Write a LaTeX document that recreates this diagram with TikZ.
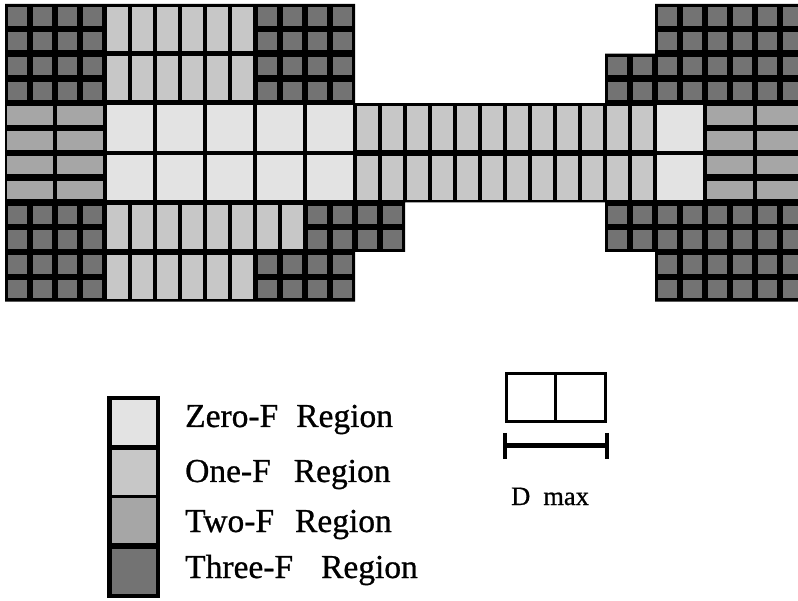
\documentclass[tikz,border=0pt]{standalone}
\usepackage{fontspec}
\setmainfont{Liberation Serif}[FakeBold=0.8]
\usepackage{tikz}

\begin{document}
\begin{tikzpicture}[
  x=1pt, y=-1pt,
  zerof/.style={fill=black!11},
  onef/.style={fill=black!22},
  twof/.style={fill=black!35},
  threef/.style={fill=black!55},
  swatch/.style={minimum width=44pt, minimum height=45pt, inner sep=0pt},
  every node/.style={font=\fontsize{33.5}{40}\selectfont}
]
  \clip (0,0) rectangle (798,601);

  % the map, one unit per cell
  \begin{scope}[shift={(5,4)}, x=50pt, y=-49.6pt]
    \fill[black] (0,0) -- (7,0) -- (7,2) -- (12,2) -- (12,1) -- (13,1)
      -- (13,0) -- (16,0) -- (16,6) -- (13,6) -- (13,5) -- (12,5)
      -- (12,4) -- (8,4) -- (8,5) -- (7,5) -- (7,6) -- (0,6) -- cycle;

    % three-F cells: 2x2 squares
    \foreach \c/\r in {0/0,1/0,5/0,6/0,13/0,14/0,15/0,
                       0/1,1/1,5/1,6/1,12/1,13/1,14/1,15/1,
                       0/4,1/4,6/4,7/4,12/4,13/4,14/4,15/4,
                       0/5,1/5,5/5,6/5,13/5,14/5,15/5}
      \foreach \i in {0,1}
        \foreach \j in {0,1}
          \fill[threef] ({\c+\i/2+0.065},{\r+\j/2+0.065})
            rectangle ({\c+\i/2+0.435},{\r+\j/2+0.435});

    % one-F cells: two upright strips
    \foreach \c/\r in {2/0,3/0,4/0,2/1,3/1,4/1,
                       7/2,8/2,9/2,10/2,11/2,12/2,
                       7/3,8/3,9/3,10/3,11/3,12/3,
                       2/4,3/4,4/4,5/4,2/5,3/5,4/5}
      \foreach \i in {0,1}
        \fill[onef] ({\c+\i/2+0.045},{\r+0.055})
          rectangle ({\c+\i/2+0.455},{\r+0.945});

    % two-F cells: two flat strips
    \foreach \c/\r in {0/2,1/2,14/2,15/2,0/3,1/3,14/3,15/3}
      \foreach \j in {0,1}
        \fill[twof] ({\c+0.045},{\r+\j/2+0.065})
          rectangle ({\c+0.955},{\r+\j/2+0.435});

    % zero-F cells
    \foreach \c/\r in {2/2,3/2,4/2,5/2,6/2,13/2,2/3,3/3,4/3,5/3,6/3,13/3}
      \fill[zerof] ({\c+0.035},{\r+0.04}) rectangle ({\c+0.965},{\r+0.96});
  \end{scope}

  % legend
  \fill[black] (107,396) rectangle (160,598);
  \node[swatch, zerof]  (zeroswatch)  at (134,422.5) {};
  \node[swatch, onef]   (oneswatch)   at (134,472) {};
  \node[swatch, twof]   (twoswatch)   at (134,520.5) {};
  \node[swatch, threef] (threeswatch) at (134,571) {};
  \node[anchor=base west, inner sep=0pt] (zerolabel)  at (185,427) {Zero-F\hspace{18pt}Region};
  \node[anchor=base west, inner sep=0pt] (onelabel)   at (185,482) {One-F\hspace{23pt}Region};
  \node[anchor=base west, inner sep=0pt] (twolabel)   at (185,532) {Two-F\hspace{21pt}Region};
  \node[anchor=base west, inner sep=0pt] (threelabel) at (185,578) {Three-F\hspace{28pt}Region};

  % scale
  \draw[line width=3pt] (506.5,373.5) rectangle (605.5,421.5);
  \draw[line width=3pt] (555.5,373.5) -- (555.5,421.5);
  \draw[line width=4.5pt] (505,445.5) -- (607,445.5);
  \draw[line width=3.5pt] (505,433) -- (505,459);
  \draw[line width=3.5pt] (607,433) -- (607,459);
  \node[anchor=base west, inner sep=0pt, font=\fontsize{26.5}{31}\selectfont]
    (dmax) at (511,505) {D\hspace{13pt}max};
\end{tikzpicture}
\end{document}
